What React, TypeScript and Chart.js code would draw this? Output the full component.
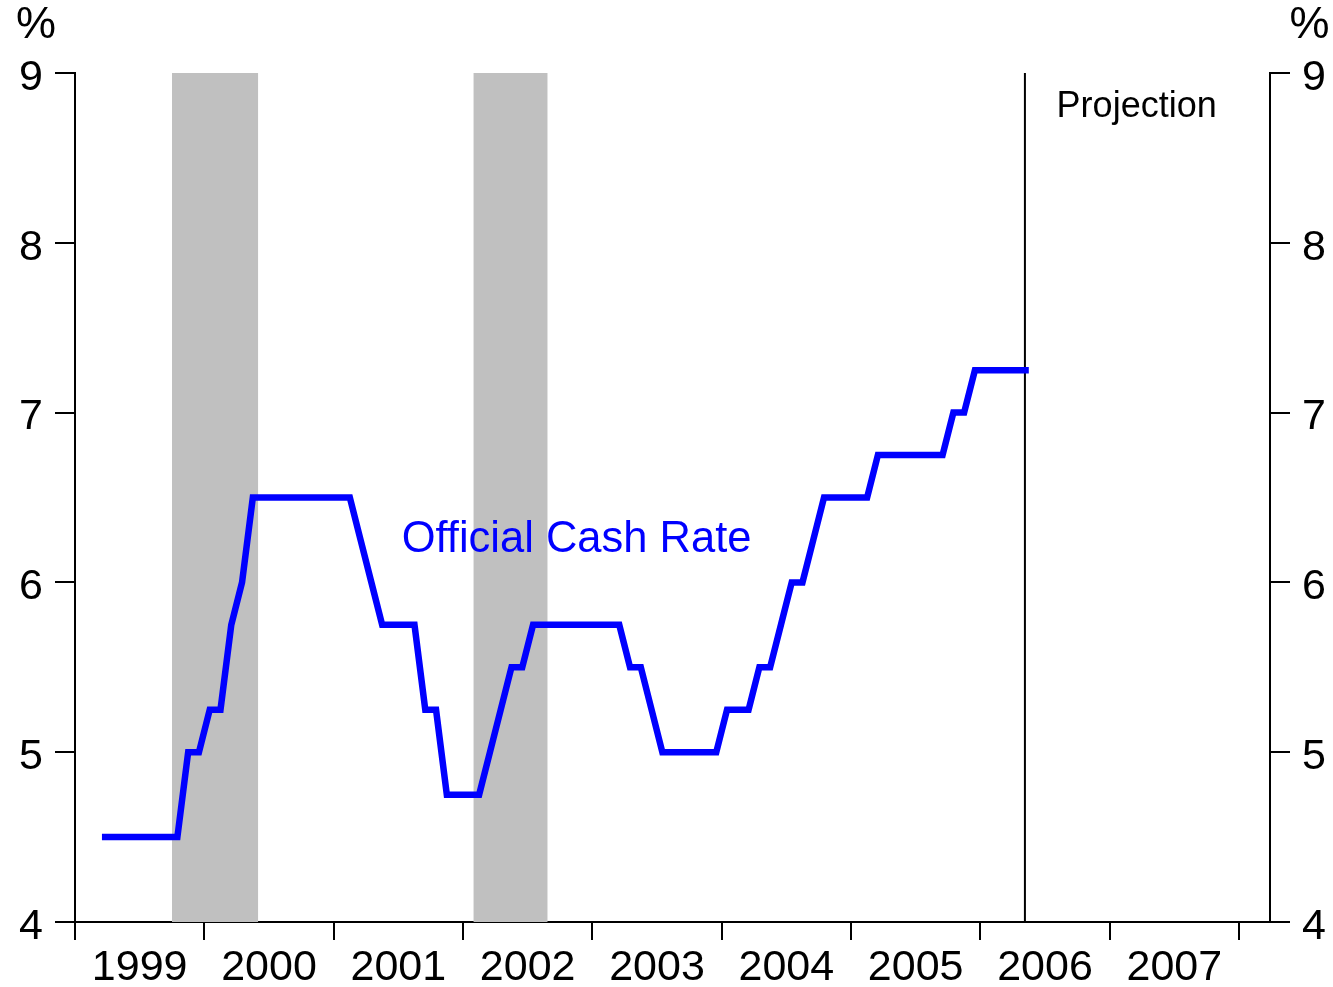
import React, { useEffect, useRef } from "react";
import { Chart, registerables } from "chart.js";

Chart.register(...registerables);

// ---- Data (monthly averages of the Official Cash Rate, %) ----
const ocrDates: string[] = [
  "1999-03", "1999-04", "1999-05", "1999-06", "1999-07", "1999-08", "1999-09", "1999-10", "1999-11", "1999-12",
  "2000-01", "2000-02", "2000-03", "2000-04", "2000-05", "2000-06", "2000-07", "2000-08", "2000-09", "2000-10", "2000-11", "2000-12",
  "2001-01", "2001-02", "2001-03", "2001-04", "2001-05", "2001-06", "2001-07", "2001-08", "2001-09", "2001-10", "2001-11", "2001-12",
  "2002-01", "2002-02", "2002-03", "2002-04", "2002-05", "2002-06", "2002-07", "2002-08", "2002-09", "2002-10", "2002-11", "2002-12",
  "2003-01", "2003-02", "2003-03", "2003-04", "2003-05", "2003-06", "2003-07", "2003-08", "2003-09", "2003-10", "2003-11", "2003-12",
  "2004-01", "2004-02", "2004-03", "2004-04", "2004-05", "2004-06", "2004-07", "2004-08", "2004-09", "2004-10", "2004-11", "2004-12",
  "2005-01", "2005-02", "2005-03", "2005-04", "2005-05", "2005-06", "2005-07", "2005-08", "2005-09", "2005-10", "2005-11", "2005-12",
  "2006-01", "2006-02", "2006-03", "2006-04", "2006-05",
];

const ocrValues: number[] = [
  4.5, 4.5, 4.5, 4.5, 4.5, 4.5, 4.5, 4.5, 5.0, 5.0,
  5.25, 5.25, 5.75, 6.0, 6.5, 6.5, 6.5, 6.5, 6.5, 6.5, 6.5, 6.5,
  6.5, 6.5, 6.25, 6.0, 5.75, 5.75, 5.75, 5.75, 5.25, 5.25, 4.75, 4.75,
  4.75, 4.75, 5.0, 5.25, 5.5, 5.5, 5.75, 5.75, 5.75, 5.75, 5.75, 5.75,
  5.75, 5.75, 5.75, 5.5, 5.5, 5.25, 5.0, 5.0, 5.0, 5.0, 5.0, 5.0,
  5.25, 5.25, 5.25, 5.5, 5.5, 5.75, 6.0, 6.0, 6.25, 6.5, 6.5, 6.5,
  6.5, 6.5, 6.75, 6.75, 6.75, 6.75, 6.75, 6.75, 6.75, 7.0, 7.0, 7.25,
  7.25, 7.25, 7.25, 7.25, 7.25,
];

const xYearLabels: string[] = ["1999", "2000", "2001", "2002", "2003", "2004", "2005", "2006", "2007"];
const yTickValues: number[] = [4, 5, 6, 7, 8, 9];

// shaded periods (decimal years)
const shadeStarts: number[] = [1999.75, 2002.08];
const shadeEnds: number[] = [2000.417, 2002.655];

const projectionStart = 2006.345;

const X_MIN = 1999;
const X_MAX = 2008.24;
const Y_MIN = 4;
const Y_MAX = 9;

const FONT = '"Liberation Sans", Arial, Helvetica, sans-serif';
const BLUE = "#0000ff";

function toDecimalYear(s: string): number {
  const [yy, mm] = s.split("-").map(Number);
  return yy + (mm - 0.5) / 12;
}

const textPlugin = {
  id: "chartTexts",
  afterDatasetsDraw(chart: any) {
    const { ctx, chartArea, scales } = chart;
    const x = scales.x;
    const y = scales.y;
    ctx.save();
    ctx.textAlign = "left";
    ctx.textBaseline = "alphabetic";
    ctx.fillStyle = BLUE;
    ctx.font = `43.5px ${FONT}`;
    ctx.fillText("Official Cash Rate", x.getPixelForValue(2001.526), y.getPixelForValue(6.181));
    ctx.fillStyle = "#000";
    ctx.font = `36px ${FONT}`;
    ctx.fillText("Projection", x.getPixelForValue(2006.59), y.getPixelForValue(8.743));
    ctx.font = `45px ${FONT}`;
    ctx.textAlign = "center";
    ctx.textBaseline = "middle";
    ctx.fillText("%", chartArea.left - 39, chartArea.top - 47);
    ctx.fillText("%", chartArea.right + 39.5, chartArea.top - 47);
    ctx.restore();
  },
};

function yAxis(position: "left" | "right", width: number) {
  return {
    type: "linear" as const,
    position,
    min: Y_MIN,
    max: Y_MAX,
    afterBuildTicks: (scale: any) => {
      scale.ticks = yTickValues.map((v) => ({ value: v }));
    },
    ticks: {
      stepSize: 1,
      font: { family: FONT, size: 43 },
      color: "#000",
      padding: 12,
      labelOffset: 5,
    },
    grid: {
      drawOnChartArea: false,
      drawTicks: true,
      tickLength: 20,
      color: "#000",
      lineWidth: 2,
    },
    border: { display: true, color: "#000", width: 2 },
    afterFit: (scale: any) => {
      scale.width = width;
    },
  };
}

export default function App() {
  const canvasRef = useRef<HTMLCanvasElement | null>(null);

  useEffect(() => {
    if (!canvasRef.current) return;
    const ocrData = ocrDates.map((d, i) => ({ x: toDecimalYear(d), y: ocrValues[i] }));

    const shadeSets = shadeStarts.map((s, i) => ({
      label: "shade" + i,
      data: [
        { x: s, y: Y_MAX },
        { x: shadeEnds[i], y: Y_MAX },
      ],
      borderColor: "rgba(0,0,0,0)",
      borderWidth: 0,
      backgroundColor: "#c0c0c0",
      fill: "start",
      pointRadius: 0,
      order: 2,
    }));

    const chart = new Chart(canvasRef.current, {
      type: "line",
      data: {
        datasets: [
          {
            label: "Official Cash Rate",
            data: ocrData,
            borderColor: BLUE,
            borderWidth: 6.5,
            pointRadius: 0,
            fill: false,
            tension: 0,
            borderJoinStyle: "miter",
            borderCapStyle: "butt",
            order: 0,
          },
          {
            label: "Projection",
            data: [
              { x: projectionStart, y: Y_MIN },
              { x: projectionStart, y: Y_MAX },
            ],
            borderColor: "#000",
            borderWidth: 2,
            pointRadius: 0,
            fill: false,
            order: 1,
          },
          ...shadeSets,
        ] as any,
      },
      options: {
        responsive: false,
        animation: false,
        devicePixelRatio: 1,
        layout: { padding: { top: 73, left: 0, right: 0, bottom: 0 } },
        plugins: {
          legend: { display: false },
          tooltip: { enabled: false },
        },
        scales: {
          x: {
            type: "linear",
            position: "bottom",
            min: X_MIN,
            max: X_MAX,
            afterBuildTicks: (scale: any) => {
              const t: { value: number }[] = [];
              const first = Number(xYearLabels[0]);
              for (let i = 0; i <= xYearLabels.length; i++) t.push({ value: first + i });
              xYearLabels.forEach((l) => t.push({ value: Number(l) + 0.5 }));
              t.sort((a, b) => a.value - b.value);
              scale.ticks = t;
            },
            ticks: {
              autoSkip: false,
              maxRotation: 0,
              minRotation: 0,
              font: { family: FONT, size: 43 },
              color: "#000",
              padding: 2,
              callback: (v: any) => {
                const n = Number(v);
                if (Math.abs(n - Math.round(n)) < 1e-6) return "";
                const idx = xYearLabels.indexOf(String(Math.floor(n)));
                return idx >= 0 ? xYearLabels[idx] : "";
              },
            },
            grid: {
              drawOnChartArea: false,
              drawTicks: true,
              tickLength: 18,
              lineWidth: 2,
              color: (c: any) => {
                const v = c.tick ? c.tick.value : 0;
                return Math.abs(v - Math.round(v)) < 1e-6 ? "#000" : "rgba(0,0,0,0)";
              },
            },
            border: { display: true, color: "#000", width: 2 },
            afterFit: (scale: any) => {
              scale.height = 65;
            },
          },
          y: yAxis("left", 75),
          y2: yAxis("right", 63),
        },
      } as any,
      plugins: [textPlugin],
    });

    return () => {
      chart.destroy();
    };
  }, []);

  return (
    <div style={{ position: "absolute", left: 0, top: 0, width: 1333, height: 987, background: "#fff" }}>
      <canvas ref={canvasRef} width={1333} height={987} style={{ display: "block" }} />
    </div>
  );
}
